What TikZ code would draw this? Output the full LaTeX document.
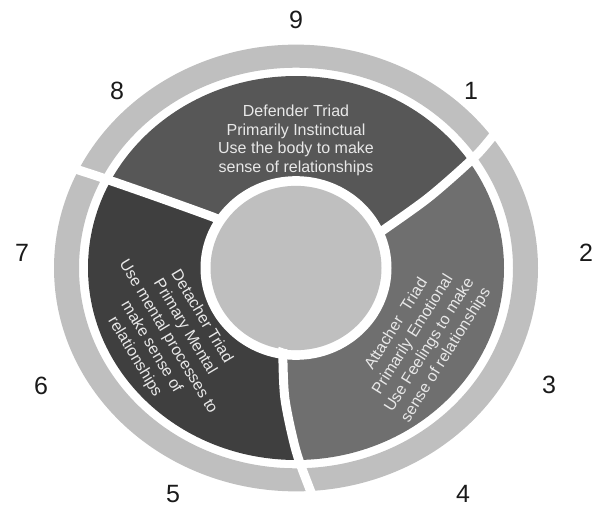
\documentclass[tikz,border=0pt]{standalone}
\usepackage{fontspec}
\setmainfont{Liberation Sans}
\definecolor{ringgray}{HTML}{BFBFBF}
\definecolor{defcol}{HTML}{575757}
\definecolor{attcol}{HTML}{6F6F6F}
\definecolor{detcol}{HTML}{3F3F3F}
\definecolor{txtcol}{HTML}{E8E8E8}
\definecolor{numcol}{HTML}{1A1A1A}
\begin{document}
\begin{tikzpicture}[x=1pt,y=1pt,
  divider/.style={draw=white, line width=9pt},
  triadtext/.style={text=txtcol, align=center, inner sep=0pt,
    font=\fontsize{16}{18.5}\selectfont},
  slanttext/.style={triadtext, font=\fontsize{16}{19.5}\selectfont},
  numlabel/.style={text=numcol, inner sep=0pt, font=\fontsize{25}{30}\selectfont}]
\useasboundingbox (0,0) rectangle (592,-508);

\begin{scope}[shift={(296,-268)}, yscale=0.923]
  % outer light ring
  \fill[ringgray, even odd rule] (0,0) circle[radius=242] (0,0) circle[radius=217];
  % the three triad segments
  \begin{scope}
    \clip (0,0) circle[radius=208];
    \fill[defcol] (0,0) -- plot[smooth] coordinates {(24:88) (25:95) (30:154) (34:216) (36.5:250)}
      arc[start angle=36.5, end angle=154.2, radius=250]
      -- plot[smooth] coordinates {(154.2:250) (153.3:219) (151:159) (146.3:99) (145.8:88)} -- cycle;
    \fill[detcol] (0,0) -- plot[smooth] coordinates {(145.8:88) (146.3:99) (151:159) (153.3:219) (154.2:250)}
      arc[start angle=154.2, end angle=274, radius=250]
      -- plot[smooth] coordinates {(274:250) (273.3:240) (270:198) (265.6:143) (262:95) (261.5:88)} -- cycle;
    \fill[attcol] (0,0) -- plot[smooth] coordinates {(261.5:88) (262:95) (265.6:143) (270:198) (273.3:240) (274:250)}
      arc[start angle=274, end angle=396.5, radius=250]
      -- plot[smooth] coordinates {(36.5:250) (34:216) (30:154) (25:95) (24:88)} -- cycle;
  \end{scope}
  % centre disc with its white border
  \fill[white] (0,0) ellipse[x radius=95.5, y radius=99.5];
  \fill[ringgray] (0,0) ellipse[x radius=85.5, y radius=89];
  % white dividers running through segments and ring
  \draw[divider] plot[smooth] coordinates {(24:88) (25:95) (30:154) (34:216) (36.5:250)};
  \draw[divider] plot[smooth] coordinates {(145.8:88) (146.3:99) (151:159) (153.3:219) (154.2:250)};
  \draw[divider] plot[smooth] coordinates {(261.5:88) (262:95) (265.6:143) (270:198) (273.3:240) (274:250)};
\end{scope}

% triad descriptions
\node[triadtext] (defender) at (296,-140.5)
  {Defender Triad\\Primarily Instinctual\\Use the body to make\\sense of relationships};
\node[slanttext, rotate=-59] (detacher) at (168,-337)
  {Detacher Triad\\Primary Mental\\Use mental processes to\\make sense of\\relationships};
\node[slanttext, rotate=58] (attacher) at (421.5,-340)
  {Attacher\ \ Triad\\Primarily Emotional\\Use Feelings to make\\sense of relationships};

% type numbers around the wheel
\node[numlabel] (n9) at (296,-20) {9};
\node[numlabel] (n1) at (471,-91) {1};
\node[numlabel] (n2) at (586,-253) {2};
\node[numlabel] (n3) at (549,-385) {3};
\node[numlabel] (n4) at (463,-494) {4};
\node[numlabel] (n5) at (173,-494) {5};
\node[numlabel] (n6) at (41,-386) {6};
\node[numlabel] (n7) at (22,-253) {7};
\node[numlabel] (n8) at (117,-91) {8};
\end{tikzpicture}
\end{document}
